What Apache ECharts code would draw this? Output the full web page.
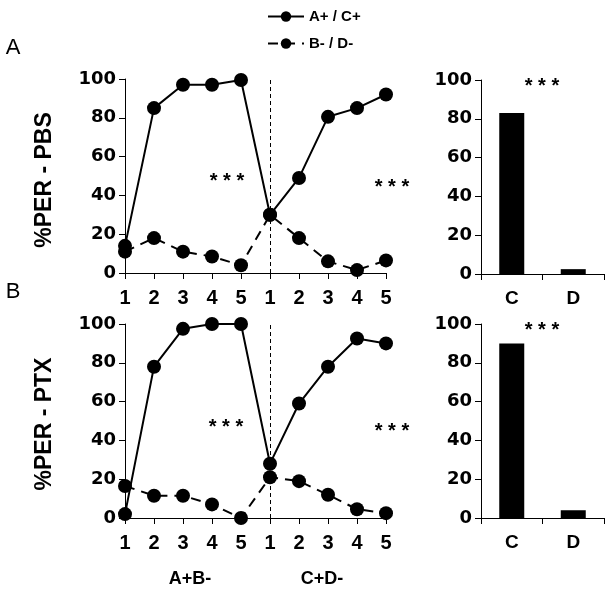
<!DOCTYPE html>
<html>
<head>
<meta charset="utf-8">
<script src="https://cdn.jsdelivr.net/npm/echarts@6/dist/echarts.min.js"></script>
<style>
html,body{margin:0;padding:0;background:#fff;}
#c{width:614px;height:590px;}
</style>
</head>
<body>
<div id="c"></div>
<script>
var timeCats = ['1','2','3','4','5','1','2','3','4','5'];
var barCats = ['C','D'];
var yTicks = [0,20,40,60,80,100];

var topSolid  = [14, 85, 97, 97, 99.5, 30, 49, 80.5, 85, 92];
var topDashed = [11, 18, 11, 8.5, 4, 30, 18, 6, 1.5, 6.5];
var botSolid  = [2, 78, 97.5, 100, 100, 28, 59, 78, 92.5, 90];
var botDashed = [16.5, 11.5, 11.5, 7, 0, 21, 19, 12, 4.5, 2.5];
var barsTop = [83, 2.5];
var barsBot = [90, 4];

var nameSolid = 'A+ / C+';
var nameDashed = 'B- / D-';
var dividerIndex = 5;

var FONT = 'Liberation Sans';
var chart = echarts.init(document.getElementById('c'));

function xLine(gi){
  return {type:'category', gridIndex:gi, data:timeCats, boundaryGap:false,
    axisLine:{lineStyle:{color:'#000',width:1}},
    axisTick:{show:true,length:6,lineStyle:{color:'#000'}},
    axisLabel:{color:'#000',fontSize:20,fontWeight:'bold',fontFamily:FONT,margin:15,interval:0}};
}
function xBar(gi){
  return {type:'category', gridIndex:gi, data:barCats, boundaryGap:true,
    axisLine:{lineStyle:{color:'#000',width:1}},
    axisTick:{show:true,length:6,lineStyle:{color:'#000'}},
    axisLabel:{color:'#000',fontSize:19,fontWeight:'bold',fontFamily:FONT,margin:15}};
}
function yAx(gi){
  return {type:'value', gridIndex:gi, min:0, max:100, interval:20,
    axisLine:{show:true,lineStyle:{color:'#000',width:1}},
    axisTick:{show:true,length:6,lineStyle:{color:'#000'}},
    splitLine:{show:false},
    axisLabel:{color:'#000',fontSize:18,fontWeight:'bold',fontFamily:'DejaVu Sans',margin:9}};
}
function lineSeries(name, data, gi, dashed, withDivider){
  var s = {type:'line', name:name, data:data, xAxisIndex:gi, yAxisIndex:gi,
    symbol:'circle', symbolSize:14, color:'#000',
    itemStyle:{color:'#000'},
    lineStyle:{color:'#000', width:2, type: dashed ? [10,7] : 'solid'},
    z: dashed ? 3 : 4};
  if (withDivider) {
    s.markLine = {silent:true, symbol:['none','none'], label:{show:false},
      lineStyle:{color:'#000', type:[4,3], width:1},
      data:[{xAxis:dividerIndex}]};
  }
  return s;
}
function barSeries(data, gi){
  return {type:'bar', data:data, xAxisIndex:gi, yAxisIndex:gi, barWidth:25,
    itemStyle:{color:'#000'}};
}
function txt(x,y,text,size,weight,extra){
  var o = {type:'text', x:x, y:y, style:{text:text, fill:'#000', font: (weight||'bold')+' '+size+'px "'+FONT+'"', textAlign:'center', textVerticalAlign:'middle'}};
  if (extra) for (var k in extra) o[k]=extra[k];
  return o;
}

chart.setOption({
  animation:false,
  backgroundColor:'#fff',
  legend:{
    orient:'vertical', left:262, top:4, itemGap:12,
    itemWidth:36, itemHeight:13,
    data:[nameSolid, nameDashed],
    textStyle:{color:'#000',fontSize:15,fontWeight:'bold',fontFamily:FONT}
  },
  grid:[
    {left:125, top:79, width:261, height:194},
    {left:481, top:80, width:123, height:194},
    {left:125, top:324, width:261, height:194},
    {left:481, top:324, width:123, height:194}
  ],
  xAxis:[xLine(0), xBar(1), xLine(2), xBar(3)],
  yAxis:[yAx(0), yAx(1), yAx(2), yAx(3)],
  series:[
    lineSeries(nameSolid, topSolid, 0, false, true),
    lineSeries(nameDashed, topDashed, 0, true, false),
    barSeries(barsTop, 1),
    lineSeries(nameSolid, botSolid, 2, false, true),
    lineSeries(nameDashed, botDashed, 2, true, false),
    barSeries(barsBot, 3)
  ],
  graphic:[
    txt(13, 48, 'A', 22, 'normal'),
    txt(13, 292, 'B', 22, 'normal'),
    txt(45, 180, '%PER - PBS', 23, 'bold', {rotation:Math.PI/2}),
    txt(45, 424, '%PER - PTX', 23, 'bold', {rotation:Math.PI/2}),
    txt(227, 181, '* * *', 20, 'bold'),
    txt(392, 187, '* * *', 20, 'bold'),
    txt(542, 86, '* * *', 20, 'bold'),
    txt(226, 427, '* * *', 20, 'bold'),
    txt(392, 431, '* * *', 20, 'bold'),
    txt(542, 330, '* * *', 20, 'bold'),
    txt(190, 579, 'A+B-', 18, 'bold'),
    txt(322, 579, 'C+D-', 18, 'bold')
  ]
});
</script>
</body>
</html>
